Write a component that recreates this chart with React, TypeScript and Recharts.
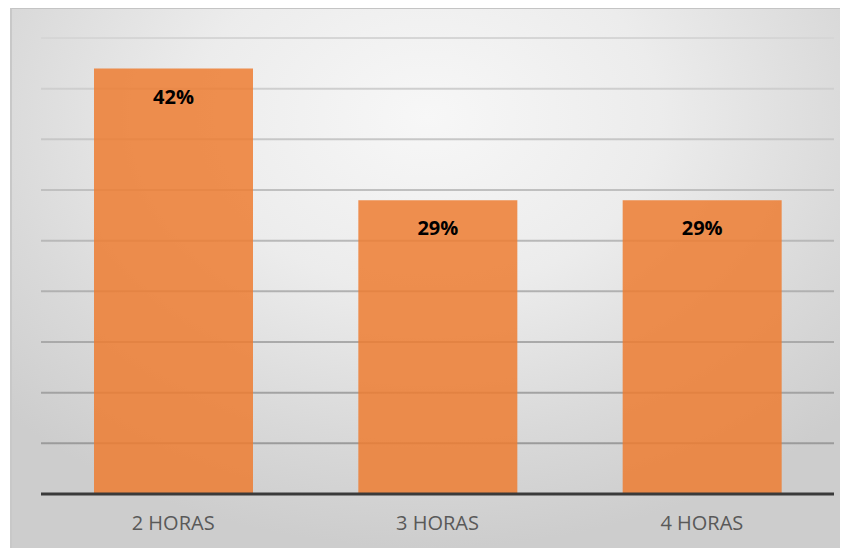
import React from "react";
import {
  BarChart,
  Bar,
  XAxis,
  YAxis,
  CartesianGrid,
  LabelList,
} from "recharts";

const categories = ["2 HORAS", "3 HORAS", "4 HORAS"];
const shares = [0.42, 0.29, 0.29];
const yTicks = [0, 0.05, 0.1, 0.15, 0.2, 0.25, 0.3, 0.35, 0.4, 0.45];

const data = categories.map((name, i) => ({ name, value: shares[i] }));

const FONT = "'Open Sans', 'Liberation Sans', sans-serif";

const AxisTick = (props: any) => {
  const { x, y, payload } = props;
  return (
    <text
      x={x}
      y={y}
      dy={28}
      textAnchor="middle"
      fill="#595959"
      fontSize={20}
      fontFamily={FONT}
    >
      {payload.value}
    </text>
  );
};

const App: React.FC = () => {
  return (
    <div
      style={{
        position: "relative",
        width: 848,
        height: 550,
        margin: "-8px 0 0 -8px",
        background: "#ffffff",
      }}
    >
      <div
        style={{
          position: "absolute",
          left: 10,
          top: 7,
          width: 833,
          height: 541,
          boxSizing: "border-box",
          borderTop: "2px solid #c4c4c4",
          borderLeft: "2px solid #c8c8c8",
          background:
            "radial-gradient(ellipse 70% 80% at 50% 20%, #f7f7f7 0%, #ececec 40%, #d9d9d9 75%, #cdcdcd 100%)",
        }}
      >
        <BarChart
          width={831}
          height={539}
          data={data}
          margin={{ top: 29, right: 9, bottom: 0, left: 29 }}
        >
          <defs>
            <linearGradient
              id="gridGrad"
              gradientUnits="userSpaceOnUse"
              x1="0"
              y1="0"
              x2="0"
              y2="539"
            >
              <stop offset="0%" stopColor="#dadada" />
              <stop offset="100%" stopColor="#8c8c8c" />
            </linearGradient>
          </defs>
          <CartesianGrid
            vertical={false}
            stroke="url(#gridGrad)"
            strokeWidth={2}
          />
          <YAxis hide domain={[0, 0.45]} ticks={yTicks} />
          <XAxis
            dataKey="name"
            height={54}
            axisLine={{ stroke: "#3a3a3a", strokeWidth: 3 }}
            tickLine={false}
            tick={<AxisTick />}
          />
          <Bar
            dataKey="value"
            fill="#ED7D31"
            fillOpacity={0.85}
            barSize={159}
            isAnimationActive={false}
          >
            <LabelList
              dataKey="value"
              position="insideTop"
              offset={21}
              formatter={(v: any) => `${Math.round(Number(v) * 100)}%`}
              style={{
                fill: "#000000",
                fontSize: 20,
                fontWeight: 700,
                fontFamily: FONT,
              }}
            />
          </Bar>
        </BarChart>
      </div>
    </div>
  );
};

export default App;
